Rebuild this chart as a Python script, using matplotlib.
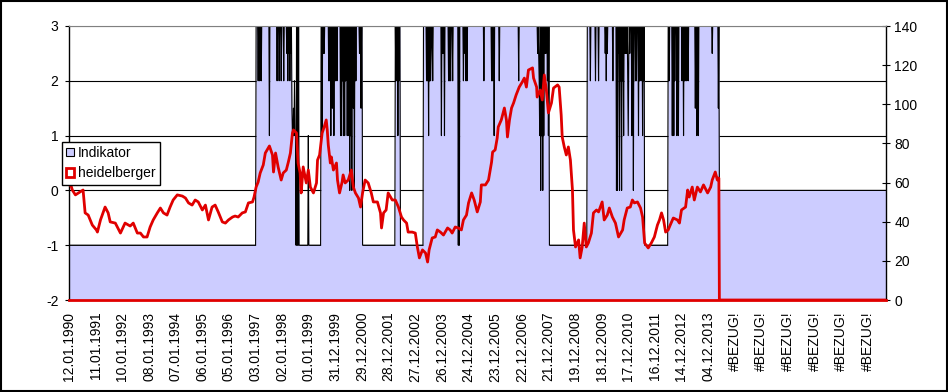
import numpy as np
import matplotlib
matplotlib.use("Agg")
import matplotlib.pyplot as plt
from matplotlib.patches import Patch, Rectangle

plt.rcParams['font.family'] = ['Liberation Sans', 'DejaVu Sans']
plt.rcParams['font.size'] = 10
plt.rcParams['axes.unicode_minus'] = False

# weekly categories, label every 52 weeks
n_weeks = 1596
date_labels = ['12.01.1990', '11.01.1991', '10.01.1992', '08.01.1993', '07.01.1994',
               '06.01.1995', '05.01.1996', '03.01.1997', '02.01.1998', '01.01.1999',
               '31.12.1999', '29.12.2000', '28.12.2001', '27.12.2002', '26.12.2003',
               '24.12.2004', '23.12.2005', '22.12.2006', '21.12.2007', '19.12.2008',
               '18.12.2009', '17.12.2010', '16.12.2011', '14.12.2012', '04.12.2013',
               '#BEZUG!', '#BEZUG!', '#BEZUG!', '#BEZUG!', '#BEZUG!', '#BEZUG!']

# Indikator: regime start week + level, plus single-week drops
ind_start = [0, 365, 436, 443, 492, 573, 637, 647, 692, 938, 1012, 1124, 1170, 1270]
ind_level = [-1, 3, 1, -1, 3, -1, 3, -1, 3, -1, 3, -1, 3, 0]
spike_week = [369, 372, 375, 391, 406, 410, 414, 419, 425, 427, 429, 431, 433, 435,
              438, 440, 444, 446, 448, 467,
              494, 496, 498, 507, 509, 511, 514, 517, 520, 523, 530, 532, 534, 536, 538,
              540, 543, 545, 548, 550, 552, 555, 557, 560, 567, 570,
              638, 640, 642, 644,
              698, 700, 702, 704, 706, 707, 710, 727, 729, 731, 733, 741, 743, 745, 749,
              760, 762, 770, 773, 775, 777, 810, 825, 827, 828, 830, 840, 878, 915, 917,
              918, 919, 921, 923, 925, 927, 929, 931, 934, 936,
              1018, 1028, 1034, 1047, 1049, 1051, 1062, 1069, 1071, 1073, 1075, 1077, 1079,
              1081, 1083, 1085, 1087, 1089, 1091, 1092, 1093, 1095, 1099, 1102, 1106, 1108,
              1112, 1114, 1117, 1120, 1122,
              1172, 1178, 1181, 1183, 1187, 1190, 1197, 1200, 1203, 1206, 1209, 1223, 1226,
              1229, 1256, 1268]
spike_level = [2, 2, 2, 1, 2, 2, 2, 2, 2.5, 2, 2.5, 2, 2.5, 1.5,
               1.5, 2, 3, 3, 3, 1,
               1, 2.5, 2.5, 2, 2, 1, 1.5, 1, 2, 2, 1, 1, 2, 1, 1,
               2, 1, 1, 0, 1, 0, 1.5, 0, 2, 2.5, 1.5,
               2, 2, 1, 2,
               2, 2, 1, 2, 2, 2.5, 2, 1, 2.5, 2.5, 1, 2, 2, 2, 2,
               -1, -1, 2, 2.5, 2, 2, 2, 2, 2, 2.5, 1, 2, 2, 2.5, 2.5,
               2, 1, 0, 1, 0, 1, 2.5, 2.5, 2, 1,
               2, 2, 2, 2.5, 2, 2.5, 2, 0, 0, 2.5, 0, 2, 0,
               2, 1, 2.5, 2.5, 2.5, 2, 1, 2.5, 2.5, 1, 0, 2, 2,
               1, 2, 2, 1, 2,
               2, 1, 1, 2, 1, 1, 2, 1, 2, 2, 2, 1.5, 1,
               1, 2.5, 1.5]

# heidelberger (right axis)
red_week = [0, 2, 6, 12, 21, 27, 31, 37, 45, 53,
            55, 61, 70, 76, 80, 90, 100, 109, 119, 125,
            133, 139, 145, 152, 158, 164, 172, 178, 184, 191,
            197, 203, 211, 221, 227, 233, 240, 246, 252, 260,
            266, 272, 279, 285, 291, 299, 305, 311, 319, 324,
            330, 338, 344, 350, 358, 361, 365, 369, 373, 379,
            383, 391, 397, 399, 403, 408, 414, 418, 424, 428,
            432, 436, 438, 444, 447, 451, 453, 457, 463, 467,
            471, 477, 483, 485, 489, 494, 498, 502, 504, 506,
            510, 512, 516, 522, 524, 528, 533, 535, 539, 545,
            551, 555, 559, 565, 569, 573, 578, 584, 590, 594,
            602, 608, 610, 614, 619, 623, 631, 637, 643, 649,
            653, 659, 662, 670, 676, 680, 684, 690, 696, 700,
            703, 709, 715, 719, 725, 731, 739, 744, 748, 754,
            760, 766, 770, 776, 780, 786, 791, 797, 803, 805,
            813, 819, 825, 827, 832, 836, 838, 844, 850, 854,
            856, 860, 864, 868, 873, 879, 885, 889, 893, 897,
            905, 907, 913, 914, 920, 924, 928, 932, 936, 942,
            946, 954, 957, 961, 963, 967, 971, 975, 979, 983,
            985, 989, 995, 998, 1002, 1006, 1010, 1014, 1020, 1024,
            1030, 1034, 1041, 1045, 1051, 1055, 1061, 1067, 1073, 1081,
            1084, 1090, 1096, 1100, 1104, 1110, 1116, 1120, 1124, 1131,
            1137, 1143, 1149, 1153, 1157, 1161, 1165, 1170, 1174, 1180,
            1188, 1192, 1196, 1204, 1208, 1211, 1217, 1221, 1227, 1233,
            1239, 1247, 1253, 1256, 1262, 1266, 1268, 1269, 1270, 1595]
red_val = [58.8, 59.8, 56.2, 53.7, 55.2, 56.2, 44.5, 43.4, 38.3, 35.8,
           34.7, 40.9, 47.5, 44.5, 39.9, 39.3, 34.2, 39.3, 37.8, 39.3,
           34.2, 34.2, 32.2, 32.2, 37.3, 40.9, 44.5, 47.0, 44.5, 43.4,
           47.5, 51.1, 53.7, 53.1, 52.1, 49.6, 48.5, 51.1, 50.1, 46.0,
           48.5, 40.9, 47.5, 48.5, 45.0, 39.9, 39.3, 40.9, 42.4, 42.9,
           42.4, 44.5, 45.0, 49.6, 50.1, 52.6, 57.7, 60.3, 64.9, 69.0,
           75.1, 78.7, 74.1, 65.4, 75.1, 68.0, 61.3, 64.9, 66.4, 70.5,
           75.1, 85.3, 86.9, 85.3, 70.0, 64.9, 54.7, 68.0, 59.8, 66.4,
           57.7, 54.7, 59.8, 71.5, 74.1, 85.3, 88.4, 92.0, 86.9, 79.2,
           70.0, 73.1, 66.4, 70.0, 61.3, 54.7, 60.3, 63.9, 59.8, 61.3,
           66.4, 57.7, 54.7, 52.1, 47.5, 54.7, 61.3, 59.8, 54.7, 50.1,
           50.1, 44.5, 36.8, 44.5, 46.0, 54.7, 51.1, 51.1, 47.5, 42.4,
           40.9, 39.3, 34.7, 34.7, 34.2, 27.1, 21.5, 25.6, 24.0, 19.4,
           25.6, 31.7, 32.2, 35.8, 34.7, 33.2, 36.8, 35.8, 34.2, 37.3,
           36.8, 35.8, 40.9, 43.4, 49.6, 54.7, 51.1, 45.0, 50.1, 58.8,
           58.8, 61.3, 70.5, 75.6, 76.7, 82.8, 88.4, 92.0, 98.1, 92.0,
           83.3, 92.0, 98.1, 100.7, 104.8, 108.8, 111.4, 113.4, 108.8, 117.5,
           118.6, 113.4, 108.8, 103.7, 107.3, 102.2, 115.0, 107.3, 95.6, 100.7,
           108.3, 109.9, 108.8, 94.5, 83.3, 78.2, 74.1, 78.2, 71.5, 56.2,
           35.8, 27.1, 30.7, 21.5, 27.1, 39.3, 27.1, 29.1, 34.2, 44.5,
           46.0, 45.0, 50.1, 40.9, 43.4, 47.0, 42.4, 39.3, 32.2, 35.8,
           40.9, 47.0, 47.5, 51.1, 49.6, 50.1, 47.0, 42.4, 29.1, 26.6,
           29.1, 32.2, 38.3, 40.9, 44.5, 40.9, 34.7, 35.8, 38.3, 41.9,
           40.9, 39.3, 46.0, 47.5, 56.2, 52.6, 57.7, 51.1, 57.7, 55.2,
           58.8, 54.7, 57.7, 61.3, 65.4, 61.3, 62.3, 62.3, 0, 0]

# build weekly indicator series from the regimes and drops
weeks = np.arange(n_weeks)
ind = np.zeros(n_weeks)
bounds = ind_start + [n_weeks]
for i in range(len(ind_start)):
    ind[bounds[i]:bounds[i + 1]] = ind_level[i]
for w, lv in zip(spike_week, spike_level):
    ind[w] = lv

fig = plt.figure(figsize=(9.48, 3.92), dpi=100)
ax = fig.add_axes([69 / 948, 1 - 300 / 392, 817 / 948, 274 / 392])
ax2 = ax.twinx()

ax.fill_between(weeks, -2, ind, color='#CCCCFF', lw=0, zorder=1)
ax.plot(weeks, ind, color='black', lw=0.8, zorder=2)

ax.set_xlim(-0.5, n_weeks - 0.5)
ax.set_ylim(-2, 3)
ax.set_yticks([-2, -1, 0, 1, 2, 3])
ax.set_axisbelow(True)
ax.grid(axis='y', color='black', lw=0.8)
ax.get_ygridlines()[-1].set_color('#808080')
ax.set_xticks(np.arange(0, 52 * len(date_labels), 52))
ax.set_xticklabels(date_labels, rotation=90, va='top', ha='center')
ax.tick_params(axis='x', length=0, pad=8.5)
ax.tick_params(axis='y', direction='out', length=3, width=0.8, pad=4.5)
for s in ax.spines.values():
    s.set_visible(False)

ax2.plot(red_week, red_val, color='#E00000', lw=2, zorder=3)
ax2.set_ylim(0, 140)
ax2.set_yticks(np.arange(0, 141, 20))
ax2.tick_params(axis='y', direction='inout', length=6, width=0.8, pad=3)
ax2.spines['bottom'].set_color('#E00000')
ax2.spines['bottom'].set_linewidth(2)
ax2.spines['top'].set_color('#808080')
ax2.spines['top'].set_linewidth(0.8)
ax2.spines['left'].set_color('black')
ax2.spines['left'].set_linewidth(1)
ax2.spines['right'].set_linewidth(1)

handles = [Patch(facecolor='#CCCCFF', edgecolor='black', lw=0.8, label='Indikator'),
           Patch(facecolor='white', edgecolor='#E00000', lw=2, label='heidelberger')]
leg = ax2.legend(handles=handles, loc='upper left', bbox_to_anchor=(62 / 948, 1 - 142 / 392),
                 bbox_transform=fig.transFigure, borderaxespad=0, fancybox=False,
                 framealpha=1, edgecolor='black', handlelength=0.55, handleheight=0.55,
                 handletextpad=0.3, labelspacing=0.45, borderpad=0.3, fontsize=10)
leg.get_frame().set_linewidth(1)

fig.patches.append(Rectangle((0.5 / 948, 1.5 / 392), 946 / 948, 389.5 / 392,
                             transform=fig.transFigure, fill=False, edgecolor='black', lw=1.5))

fig.savefig('out.png', dpi=100)
